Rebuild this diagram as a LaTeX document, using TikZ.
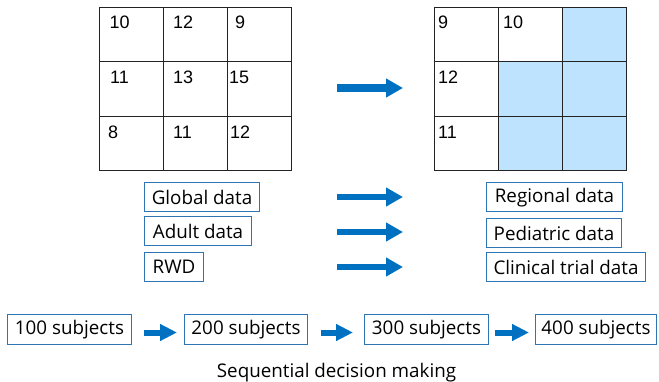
\documentclass[tikz,border=0pt]{standalone}
\usepackage{fontspec}
\setmainfont{Open Sans}
\newfontfamily\numfont{Liberation Sans}
\usetikzlibrary{arrows.meta}

\definecolor{arrowblue}{RGB}{0,112,192}
\definecolor{boxblue}{RGB}{46,117,182}
\definecolor{cellblue}{RGB}{189,227,255}
\definecolor{gridline}{RGB}{35,35,35}

\tikzset{
  cell/.style={draw=gridline, line width=1pt, minimum width=64pt,
    minimum height=54.33pt, inner sep=0pt, anchor=north west},
  filledcell/.style={cell, fill=cellblue},
  num/.style={anchor=base west, inner sep=0pt,
    font=\fontsize{18}{20}\numfont},
  tag/.style={draw=boxblue, line width=1pt, anchor=north west,
    minimum height=29.5pt, inner sep=0pt,
    font=\fontsize{18.8}{22}\selectfont},
  blockarrow/.style={draw=arrowblue, line width=#1,
    -{Triangle[length=17pt,width=18pt]}},
  blockarrow/.default=6.5pt,
  smallarrow/.style={draw=arrowblue, line width=6pt,
    -{Triangle[length=17pt,width=16pt]}}
}

\begin{document}
\begin{tikzpicture}[x=1pt,y=-1pt]
\useasboundingbox (0,0) rectangle (659,382);

% left grid
\foreach \r/\y in {1/7,2/61.33,3/115.67}{
  \foreach \c/\x in {1/99,2/163,3/227}{
    \node[cell] (g\r\c) at (\x,\y) {};
  }
}
\node[num] (n11) at (109.5,29) {10};
\node[num] (n12) at (173,29) {12};
\node[num] (n13) at (235,29) {9};
\node[num] (n21) at (110,84) {11};
\node[num] (n22) at (173,84) {13};
\node[num] (n23) at (229,84) {15};
\node[num] (n31) at (108,139) {8};
\node[num] (n32) at (173,139) {11};
\node[num] (n33) at (230,139) {12};

% right grid, unknown cells shaded
\node[cell]       (h11) at (434,7) {};
\node[cell]       (h12) at (498,7) {};
\node[filledcell] (h13) at (562,7) {};
\node[cell]       (h21) at (434,61.33) {};
\node[filledcell] (h22) at (498,61.33) {};
\node[filledcell] (h23) at (562,61.33) {};
\node[cell]       (h31) at (434,115.67) {};
\node[filledcell] (h32) at (498,115.67) {};
\node[filledcell] (h33) at (562,115.67) {};
\node[num] (m11) at (438,29) {9};
\node[num] (m12) at (503,29) {10};
\node[num] (m21) at (438,84) {12};
\node[num] (m31) at (438,139) {11};

% grid arrow
\coordinate (ga) at (337,88);
\coordinate (gb) at (403,88);
\draw[blockarrow=7.5pt] (ga) -- (gb);

% data sources and their targets
\node[tag, minimum width=115pt] (glob) at (144,182) {Global data};
\node[tag, minimum width=107pt] (adult) at (144,216) {Adult data};
\node[tag, minimum width=59pt]  (rwd) at (144,252) {RWD};
\node[tag, minimum width=136pt] (reg) at (486,182) {Regional data};
\node[tag, minimum width=135pt] (ped) at (486,218) {Pediatric data};
\node[tag, minimum width=159pt] (ctd) at (486,252) {Clinical trial data};

\coordinate (d1a) at (337,197);  \coordinate (d1b) at (403,197);
\coordinate (d2a) at (337,232);  \coordinate (d2b) at (403,232);
\coordinate (d3a) at (337,267);  \coordinate (d3b) at (403,267);
\draw[blockarrow] (d1a) -- (d1b);
\draw[blockarrow] (d2a) -- (d2b);
\draw[blockarrow] (d3a) -- (d3b);

% sequential cohorts
\node[tag, minimum width=124pt, minimum height=30pt] (s1) at (7,314) {100 subjects};
\node[tag, minimum width=123pt, minimum height=30pt] (s2) at (184,314) {200 subjects};
\node[tag, minimum width=124pt, minimum height=30pt] (s3) at (364,314) {300 subjects};
\node[tag, minimum width=121pt, minimum height=30pt] (s4) at (535,314) {400 subjects};

\coordinate (e1a) at (144,332.5); \coordinate (e1b) at (177,332.5);
\coordinate (e2a) at (321,332.5); \coordinate (e2b) at (353,332.5);
\coordinate (e3a) at (495,332.5); \coordinate (e3b) at (529,332.5);
\draw[smallarrow] (e1a) -- (e1b);
\draw[smallarrow] (e2a) -- (e2b);
\draw[smallarrow] (e3a) -- (e3b);

\node[anchor=base, inner sep=0pt, font=\fontsize{18.8}{22}\selectfont]
  (caption) at (336.5,377) {Sequential decision making};
\end{tikzpicture}
\end{document}
